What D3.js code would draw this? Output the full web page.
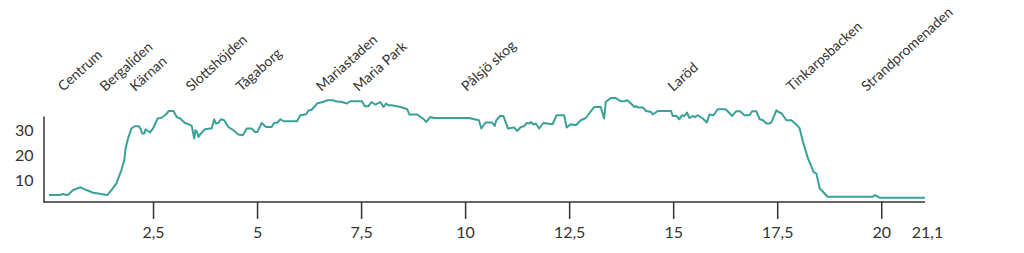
<!DOCTYPE html>
<html>
<head>
<meta charset="utf-8">
<script src="https://cdn.jsdelivr.net/npm/d3@7"></script>
<style>
  body { margin: 0; background: #fff; }
  text { font-family: Lato, "Open Sans", sans-serif; fill: #333; }
</style>
</head>
<body>
<div id="chart"></div>
<script>
// elevation profile, km along route and metres above sea
var km = [0, 0.26, 0.34, 0.42, 0.46, 0.58, 0.76, 0.90, 1.06, 1.22, 1.40, 1.50, 1.62, 1.74, 1.81, 1.84, 1.90, 1.98, 2.06, 2.16,
  2.21, 2.24, 2.29, 2.32, 2.43, 2.50, 2.61, 2.69, 2.79, 2.88, 2.99, 3.07, 3.15, 3.27, 3.35, 3.43, 3.49, 3.52, 3.56, 3.59,
  3.63, 3.75, 3.87, 3.91, 3.97, 4.01, 4.07, 4.13, 4.21, 4.31, 4.43, 4.55, 4.66, 4.75, 4.87, 4.95, 5.01, 5.11, 5.22, 5.35,
  5.41, 5.49, 5.56, 5.64, 5.96, 6.04, 6.18, 6.24, 6.30, 6.36, 6.44, 6.53, 6.70, 6.84, 6.88, 7.04, 7.16, 7.24, 7.52, 7.59,
  7.67, 7.75, 7.84, 7.96, 8.04, 8.10, 8.15, 8.23, 8.45, 8.61, 8.66, 8.85, 8.93, 9.01, 9.06, 9.17, 9.25, 10.09, 10.25, 10.33,
  10.39, 10.49, 10.65, 10.71, 10.75, 10.84, 10.92, 11.03, 11.18, 11.25, 11.34, 11.42, 11.48, 11.54, 11.58, 11.64, 11.70, 11.78, 11.88, 12.10,
  12.20, 12.38, 12.44, 12.54, 12.66, 12.78, 12.90, 12.98, 13.10, 13.26, 13.34, 13.38, 13.50, 13.62, 13.75, 13.82, 13.90, 14.01, 14.07, 14.11,
  14.15, 14.28, 14.35, 14.47, 14.51, 14.63, 14.95, 14.99, 15.08, 15.15, 15.21, 15.27, 15.33, 15.39, 15.47, 15.53, 15.59, 15.71, 15.81, 15.87,
  15.97, 16.07, 16.26, 16.42, 16.51, 16.61, 16.71, 16.83, 16.90, 17.00, 17.08, 17.16, 17.24, 17.32, 17.36, 17.48, 17.53, 17.61, 17.72, 17.84,
  17.96, 18.04, 18.12, 18.24, 18.38, 18.44, 18.52, 18.60, 18.71, 19.80, 19.85, 19.97, 21.05];

var elevation = [4.0, 4.0, 4.4, 4.0, 4.1, 6.0, 7.1, 6.0, 4.9, 4.5, 4.0, 6.0, 8.7, 14.0, 18.0, 22.7, 26.7, 30.7, 31.6, 31.6,
  30.3, 28.7, 28.7, 30.4, 29.1, 30.7, 34.7, 34.9, 36.0, 37.7, 37.7, 35.3, 34.7, 32.9, 32.4, 31.7, 26.7, 30.0, 29.3, 27.3,
  28.3, 30.4, 30.7, 30.7, 34.4, 32.7, 32.9, 34.4, 34.0, 31.3, 30.0, 28.3, 28.0, 30.7, 30.7, 29.3, 29.3, 32.9, 31.3, 31.3,
  32.9, 33.1, 34.4, 33.6, 33.6, 36.0, 36.4, 38.0, 38.0, 39.1, 40.7, 41.1, 42.0, 42.0, 41.6, 41.3, 40.7, 41.6, 41.6, 39.6,
  39.6, 41.3, 40.3, 41.3, 39.3, 40.7, 40.0, 40.0, 39.3, 38.4, 36.3, 36.3, 35.3, 34.4, 33.3, 35.3, 34.9, 34.9, 34.3, 34.0,
  30.7, 33.1, 33.1, 31.7, 34.0, 35.7, 35.7, 30.7, 31.1, 29.7, 31.3, 31.6, 32.9, 32.7, 33.3, 32.3, 32.7, 30.7, 32.9, 32.4,
  36.0, 36.0, 31.1, 32.4, 32.0, 34.0, 34.9, 36.7, 39.3, 39.3, 34.7, 41.3, 42.9, 42.9, 41.6, 41.6, 42.0, 40.3, 39.3, 39.7,
  39.1, 39.1, 37.7, 37.3, 36.3, 37.7, 37.7, 35.7, 35.7, 34.4, 36.0, 35.7, 37.1, 34.9, 35.7, 35.3, 36.0, 34.7, 33.1, 36.3,
  36.0, 38.4, 38.4, 35.7, 37.6, 37.6, 36.0, 36.0, 37.6, 37.6, 34.4, 34.0, 32.7, 32.7, 33.1, 38.0, 37.3, 36.7, 34.0, 34.0,
  32.3, 30.7, 25.3, 18.7, 13.1, 12.7, 6.7, 5.3, 3.3, 3.3, 4.0, 2.9, 2.9];

var places = ["Centrum", "Bergaliden", "Kärnan", "Slottshöjden", "Tågaborg", "Mariastaden", "Maria Park",
  "Pålsjö skog", "Laröd", "Tinkarpsbacken", "Strandpromenaden"];
var placeKm = [0.34, 1.35, 2.07, 3.42, 4.62, 6.55, 7.44, 10.04, 15.0, 17.85, 19.65];

var xTicks = [2.5, 5, 7.5, 10, 12.5, 15, 17.5, 20, 21.1];
var yTicks = [10, 20, 30];

var svgWidth = 1024, svgHeight = 253;
var axisLeftX = 43.5, axisBottomY = 202;

var svg = d3.select("#chart")
  .append("svg")
  .attr("width", svgWidth)
  .attr("height", svgHeight);

var x = d3.scaleLinear()
  .domain([0, 21.1])
  .range([49, 927]);

var y = d3.scaleLinear()
  .domain([1.2, 35.7])
  .range([axisBottomY, 116]);

var fmt = function(d) { return String(d).replace(".", ","); };

// bottom axis
var gx = svg.append("g")
  .attr("transform", "translate(0," + axisBottomY + ")")
  .call(d3.axisBottom(x).tickValues(xTicks).tickFormat(fmt).tickSize(17).tickPadding(8));
gx.select(".domain").remove();
gx.selectAll(".tick line").attr("stroke", "#333").attr("stroke-width", 1.5);
gx.selectAll(".tick").filter(function(d) { return d === 21.1; }).select("line").remove();
gx.selectAll(".tick text").style("font-size", "16px").attr("fill", "#333");
gx.append("line")
  .attr("x1", axisLeftX)
  .attr("x2", x(21.05))
  .attr("stroke", "#333")
  .attr("stroke-width", 1.5);

// left axis
var gy = svg.append("g")
  .attr("transform", "translate(" + axisLeftX + ",0)")
  .call(d3.axisLeft(y).tickValues(yTicks).tickSize(0).tickSizeOuter(0).tickPadding(10));
gy.select(".domain").attr("stroke", "#333").attr("stroke-width", 1.5);
gy.selectAll(".tick text").style("font-size", "16px").attr("fill", "#333");

// profile line
var line = d3.line()
  .x(function(d, i) { return x(km[i]); })
  .y(function(d) { return y(d); });

svg.append("path")
  .datum(elevation)
  .attr("fill", "none")
  .attr("stroke", "#3aa198")
  .attr("stroke-width", 2)
  .attr("stroke-linejoin", "round")
  .attr("d", line);

// place names
svg.selectAll(".place")
  .data(places)
  .enter()
  .append("text")
  .attr("class", "place")
  .attr("transform", function(d, i) { return "translate(" + x(placeKm[i]) + ",92) rotate(-42)"; })
  .style("font-size", "14px")
  .text(function(d) { return d; });
</script>
</body>
</html>
